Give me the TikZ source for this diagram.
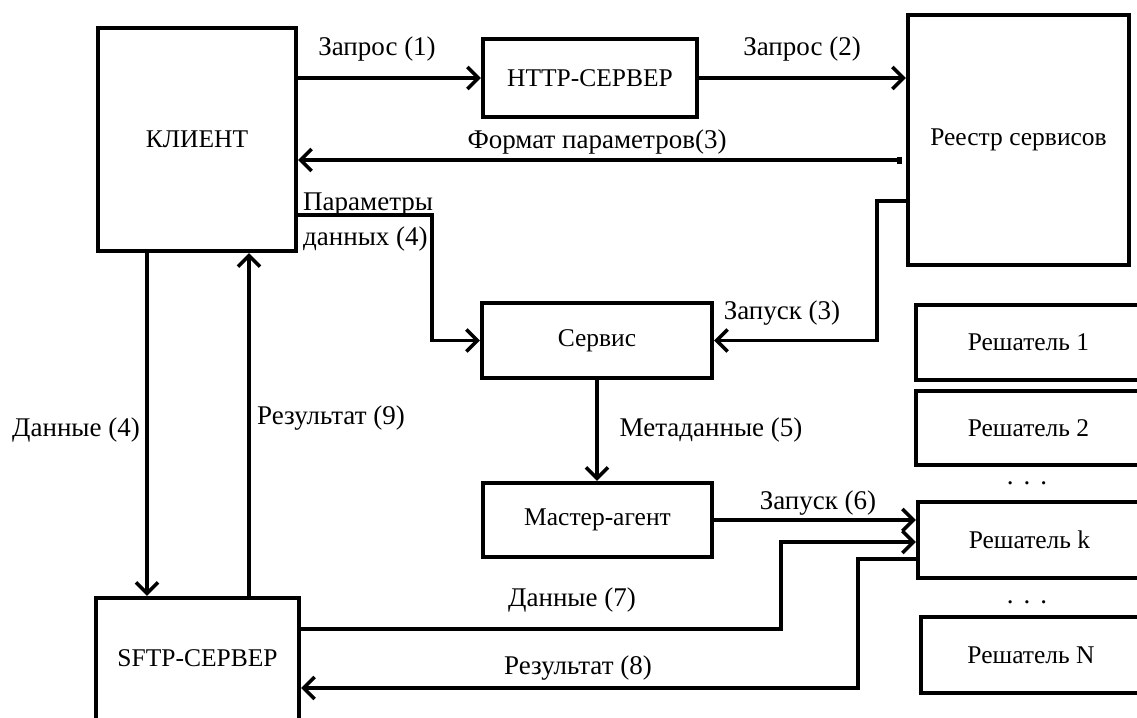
\documentclass[tikz,border=0pt]{standalone}
\usepackage{fontspec}
\setmainfont{Liberation Serif}
\usetikzlibrary{arrows.meta}

\tikzset{
  box/.style={draw, rectangle, line width=4.2pt, inner sep=0pt,
              font=\fontsize{25.5}{30}\selectfont},
  lbl/.style={inner sep=0pt, font=\fontsize{27}{32}\selectfont},
  wire/.style={line width=3.6pt},
  arr/.style={wire, -{Straight Barb[length=11pt,width=22pt]}},
}

\begin{document}
\begin{tikzpicture}[x=1pt,y=-1pt]
\useasboundingbox (0,0) rectangle (1137,717);
\clip (0,0) rectangle (1137,717);

% main blocks
\node[box, minimum width=198pt, minimum height=223pt] (klient) at (197,139.5) {КЛИЕНТ};
\node[box, minimum width=214pt, minimum height=78pt]  (http)   at (590,78)    {HTTP-СЕРВЕР};
\node[box, minimum width=221pt, minimum height=250pt] (reg)    at (1018.5,140) {Реестр сервисов};
\node[box, minimum width=230pt, minimum height=75pt]  (serv)   at (597,340.5) {Сервис};
\node[box, minimum width=229pt, minimum height=74pt]  (master) at (597.5,520) {Мастер-агент};
\node[box, minimum width=203pt, minimum height=124pt] (sftp)   at (197.5,660) {\raisebox{3pt}{SFTP-СЕРВЕР}};

% solvers
\node[box, minimum width=225pt, minimum height=75pt] (s1) at (1028.5,342.5) {Решатель 1};
\node[box, minimum width=225pt, minimum height=74pt] (s2) at (1028.5,428)   {Решатель 2};
\node[lbl] (dots1) at (1027,483) {.\hspace{10pt}.\hspace{10pt}.};
\node[box, minimum width=223pt, minimum height=76pt] (sk) at (1029.5,540)   {Решатель k};
\node[lbl] (dots2) at (1027,602) {.\hspace{10pt}.\hspace{10pt}.};
\node[box, minimum width=220pt, minimum height=76pt] (sn) at (1031,655)     {Решатель N};

% bend points of the routed connectors
\coordinate (fmt)  at (902,160);
\coordinate (pbend) at (432,215);
\coordinate (lbend) at (877,201);
\coordinate (d7a) at (781,629);
\coordinate (d7b) at (781,542);
\coordinate (r8a) at (858,559);
\coordinate (r8b) at (858,688);
\coordinate (d4) at (147,0);
\coordinate (r9) at (249,0);

% connectors
\draw[arr] (klient.east |- http.west) -- (http.west);
\draw[arr] (http.east) -- (reg.west |- http.east);
\draw[wire, {Square[length=5pt,width=7pt]}-{Straight Barb[length=11pt,width=22pt]}]
  (fmt) -- (klient.east |- fmt);
\draw[arr] (klient.east |- pbend) -- (pbend) |- (serv.west);
\draw[arr] (reg.west |- lbend) -- (lbend) |- (serv.east);
\draw[arr] (serv.south) -- (serv.south |- master.north);
\draw[arr] (master.east) -- (sk.west |- master.east);
\draw[arr] (sftp.east |- d7a) -- (d7a) -- (d7b) -- (sk.west |- d7b);
\draw[arr] (sk.west |- r8a) -- (r8a) -- (r8b) -- (sftp.east |- r8b);
\draw[arr] (klient.south -| d4) -- (sftp.north -| d4);
\draw[arr] (sftp.north -| r9) -- (klient.south -| r9);

% connector labels
\node[lbl] (l1) at (377,49)  {Запрос (1)};
\node[lbl] (l2) at (802,49)  {Запрос (2)};
\node[lbl] (l3) at (597,142) {Формат параметров(3)};
\node[lbl, anchor=base west] (l4a) at (303,210) {Параметры};
\node[lbl, anchor=base west] (l4b) at (303,245) {данных (4)};
\node[lbl] (l5) at (782,313) {Запуск (3)};
\node[lbl] (l6) at (711,430) {Метаданные (5)};
\node[lbl] (l7) at (818,503) {Запуск (6)};
\node[lbl] (l8) at (572,600) {Данные (7)};
\node[lbl] (l9) at (578,668) {Результат (8)};
\node[lbl] (l10) at (76,430) {Данные (4)};
\node[lbl] (l11) at (331,418) {Результат (9)};
\end{tikzpicture}
\end{document}
